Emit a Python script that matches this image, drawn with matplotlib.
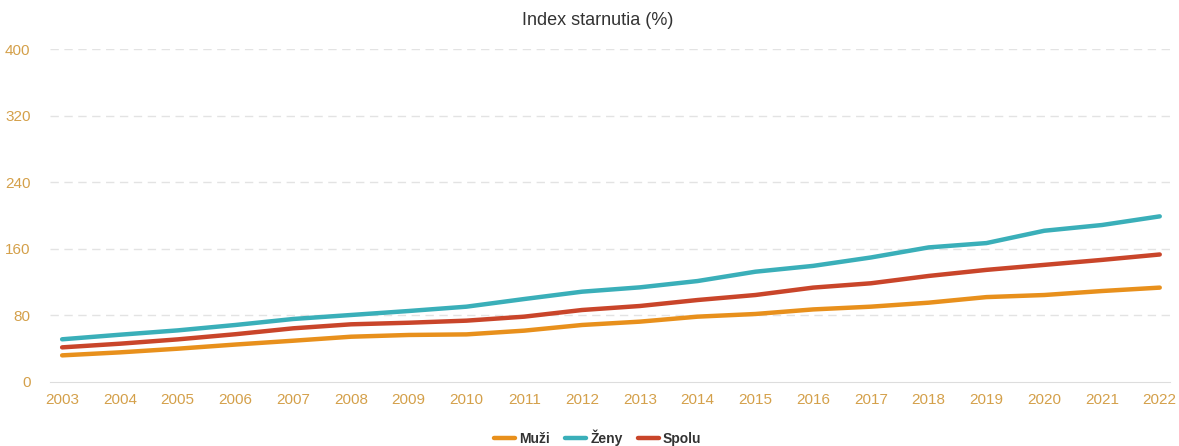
import matplotlib
matplotlib.use("Agg")
import matplotlib.pyplot as plt

# data
years = list(range(2003, 2023))
muzi = [32, 35.6, 40, 45, 49.6, 54.4, 56.5, 57.2, 61.7, 68.5,
        72.5, 78.5, 81.7, 87.2, 90.5, 95.3, 102, 104.5, 109.3, 113.4]
zeny = [51.3, 56.8, 62, 68.5, 75.7, 80.5, 85.3, 90.5, 99.7, 108.5,
        113.7, 121.3, 132.5, 139.5, 149.6, 161.7, 166.9, 181.7, 188.6, 199]
spolu = [41.6, 46, 51.2, 57.4, 64.5, 69.3, 71.2, 73.7, 78.5, 86.5,
         91.3, 98.5, 104.5, 113.4, 118.6, 127.4, 134.7, 140.7, 146.7, 153.2]
y_ticks = [0, 80, 160, 240, 320, 400]

plt.rcParams['font.family'] = ['Liberation Sans', 'DejaVu Sans']
tick_col = '#D4A04A'

fig = plt.figure(figsize=(11.79, 4.46), dpi=100)
ax = fig.add_axes([0.0424, 0.1435, 0.9496, 0.7465])

ax.plot(years, muzi, color='#E8901C', lw=3.2, label='Muži', solid_capstyle='round')
ax.plot(years, zeny, color='#3AAFB9', lw=3.2, label='Ženy', solid_capstyle='round')
ax.plot(years, spolu, color='#C9452A', lw=3.2, label='Spolu', solid_capstyle='round')

ax.set_xlim(2002.79, 2022.17)
ax.set_ylim(0, 400)
ax.set_xticks(years)
ax.set_yticks(y_ticks)
ax.tick_params(axis='both', length=0, labelsize=11, colors=tick_col)
ax.tick_params(axis='x', pad=8)
ax.tick_params(axis='y', pad=14)

for v in y_ticks[1:]:
    ax.axhline(v, color='#e3e3e3', lw=1, ls=(0, (6, 4)), zorder=0)
for s in ['top', 'right', 'left']:
    ax.spines[s].set_visible(False)
ax.spines['bottom'].set_color('#dddddd')

fig.text(0.507, 0.953, 'Index starnutia (%)', ha='center', va='center',
         fontsize=13, color='#333333')

leg = fig.legend(loc='center', bbox_to_anchor=(0.507, 0.018), ncol=3, frameon=False,
                 handlelength=1.5, handletextpad=0.3, columnspacing=1.1,
                 prop={'size': 10, 'weight': 'bold'})
for t in leg.get_texts():
    t.set_color('#333333')

fig.savefig('out.png', dpi=100)
